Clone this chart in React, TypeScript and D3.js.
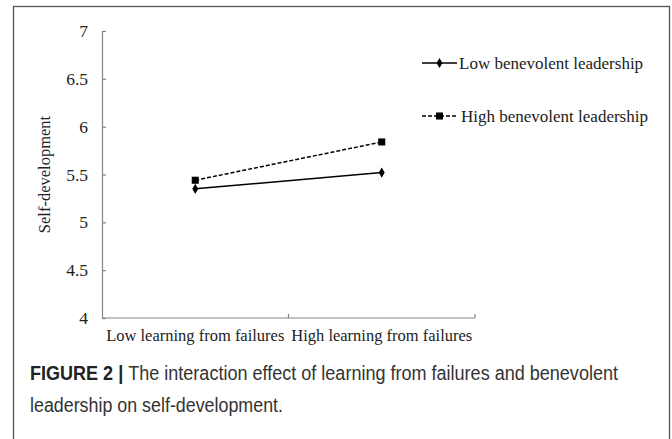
import * as React from 'react';
import * as d3 from 'd3';

const categories = ['Low learning from failures', 'High learning from failures'];
const lowBenevolent = [5.35, 5.52];
const highBenevolent = [5.44, 5.84];
const yTicks = [4, 4.5, 5, 5.5, 6, 6.5, 7];
const seriesNames = ['Low benevolent leadership', 'High benevolent leadership'];

const W = 672;
const H = 439;

export default function App() {
    const ref = React.useRef<SVGSVGElement>(null);

    React.useEffect(() => {
        const svg = d3.select(ref.current);
        svg.selectAll('*').remove();

        const serif = '"Liberation Serif", "Times New Roman", serif';
        const sans = '"Liberation Sans", Arial, sans-serif';
        const axisColor = '#858585';

        // frame around the figure
        svg.append('rect')
            .attr('x', 13.5).attr('y', 6.5)
            .attr('width', 656).attr('height', 460)
            .attr('fill', 'none')
            .attr('stroke', '#555')
            .attr('stroke-width', 1.3);

        const x = d3.scaleBand<string>().domain(categories).range([102, 475]);
        const y = d3.scaleLinear().domain([4, 7]).range([318, 31]);

        // y axis, ticks pointing inward
        const yAxis = d3.axisLeft(y)
            .tickValues(yTicks)
            .tickFormat((d: any) => String(d))
            .tickSizeInner(-4)
            .tickSizeOuter(-4)
            .tickPadding(14);

        const gy = svg.append('g')
            .attr('transform', 'translate(102,0)')
            .call(yAxis);
        gy.selectAll('path, line').attr('stroke', axisColor).attr('stroke-width', 1.2);
        gy.selectAll('text')
            .attr('font-family', serif)
            .attr('font-size', 17.5)
            .attr('fill', '#222');

        // x axis with ticks at band edges, pointing up
        const gx = svg.append('g');
        gx.append('line')
            .attr('x1', x.range()[0]).attr('x2', x.range()[1])
            .attr('y1', y(4)).attr('y2', y(4))
            .attr('stroke', axisColor).attr('stroke-width', 1.2);
        const edges = categories.map((c) => (x(c) as number) + x.bandwidth());
        gx.selectAll('line.tick')
            .data(edges)
            .enter().append('line')
            .attr('class', 'tick')
            .attr('x1', (d) => d).attr('x2', (d) => d)
            .attr('y1', y(4)).attr('y2', y(4) - 4)
            .attr('stroke', axisColor).attr('stroke-width', 1.2);
        gx.selectAll('text')
            .data(categories)
            .enter().append('text')
            .attr('x', (d) => (x(d) as number) + x.bandwidth() / 2)
            .attr('y', y(4) + 23)
            .attr('text-anchor', 'middle')
            .attr('font-family', serif)
            .attr('font-size', 16.5)
            .attr('fill', '#222')
            .text((d) => d);

        // y axis title
        svg.append('text')
            .attr('transform', 'translate(50,' + (y(4) + y(7)) / 2 + ') rotate(-90)')
            .attr('text-anchor', 'middle')
            .attr('font-family', serif)
            .attr('font-size', 16.5)
            .attr('fill', '#222')
            .text('Self-development');

        const cx = (i: number) => (x(categories[i]) as number) + x.bandwidth() / 2;
        const line = d3.line<number>().x((d, i) => cx(i)).y((d) => y(d));

        // series lines
        svg.append('path')
            .datum(lowBenevolent)
            .attr('d', line)
            .attr('fill', 'none')
            .attr('stroke', '#000')
            .attr('stroke-width', 1.5);
        svg.append('path')
            .datum(highBenevolent)
            .attr('d', line)
            .attr('fill', 'none')
            .attr('stroke', '#000')
            .attr('stroke-width', 1.5)
            .attr('stroke-dasharray', '4,2');

        const diamond = d3.symbol().type(d3.symbolDiamond).size(30);
        const square = d3.symbol().type(d3.symbolSquare).size(50);

        svg.selectAll('path.low')
            .data(lowBenevolent)
            .enter().append('path')
            .attr('class', 'low')
            .attr('transform', (d, i) => 'translate(' + cx(i) + ',' + y(d) + ')')
            .attr('d', diamond as any)
            .attr('fill', '#000');
        svg.selectAll('path.high')
            .data(highBenevolent)
            .enter().append('path')
            .attr('class', 'high')
            .attr('transform', (d, i) => 'translate(' + cx(i) + ',' + y(d) + ')')
            .attr('d', square as any)
            .attr('fill', '#000');

        // legend
        const legendY = [63, 116];
        const lg = svg.append('g');
        seriesNames.forEach((name, i) => {
            const ly = legendY[i];
            lg.append('line')
                .attr('x1', 422).attr('x2', 457)
                .attr('y1', ly).attr('y2', ly)
                .attr('stroke', '#000')
                .attr('stroke-width', 1.5)
                .attr('stroke-dasharray', i === 1 ? '4,2' : null);
            lg.append('path')
                .attr('transform', 'translate(439.5,' + ly + ')')
                .attr('d', (i === 0 ? diamond : square) as any)
                .attr('fill', '#000');
            lg.append('text')
                .attr('x', i === 0 ? 459 : 461)
                .attr('y', ly + 5.5)
                .attr('font-family', serif)
                .attr('font-size', 17)
                .attr('fill', '#222')
                .text(name);
        });

        // caption
        const cap = svg.append('text')
            .attr('x', 30)
            .attr('y', 380)
            .attr('font-family', sans)
            .attr('font-size', 19.5)
            .attr('fill', '#333')
            .attr('textLength', 588)
            .attr('lengthAdjust', 'spacingAndGlyphs');
        cap.append('tspan').attr('font-weight', 'bold').attr('fill', '#222').text('FIGURE 2 | ');
        cap.append('tspan').text('The interaction effect of learning from failures and benevolent');

        svg.append('text')
            .attr('x', 30)
            .attr('y', 412)
            .attr('font-family', sans)
            .attr('font-size', 19.5)
            .attr('fill', '#333')
            .attr('textLength', 253)
            .attr('lengthAdjust', 'spacingAndGlyphs')
            .text('leadership on self-development.');
    }, []);

    return (
        <svg ref={ref} width={W} height={H}
            style={{ position: 'absolute', left: 0, top: 0, background: '#fff' }} />
    );
}
